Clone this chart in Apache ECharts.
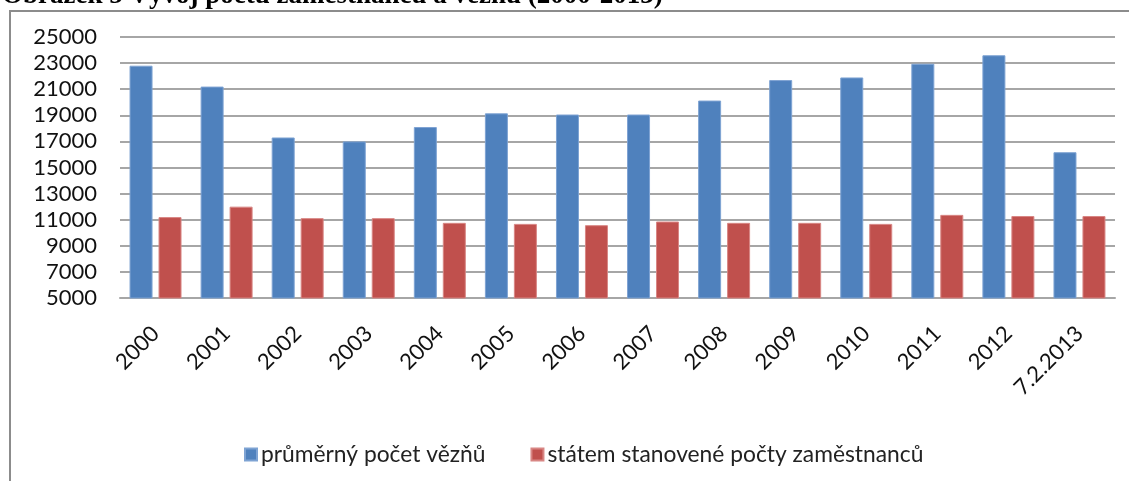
<!DOCTYPE html>
<html>
<head>
<meta charset="utf-8">
<script src="https://cdn.jsdelivr.net/npm/echarts@6/dist/echarts.min.js"></script>
<style>
  html, body { margin: 0; padding: 0; background: #fff; }
  #chart { width: 1129px; height: 481px; }
</style>
</head>
<body>
<div id="chart"></div>
<script>
var categories = ['2000', '2001', '2002', '2003', '2004', '2005', '2006', '2007',
    '2008', '2009', '2010', '2011', '2012', '7.2.2013'];
var prisoners = [22800, 21200, 17300, 17000, 18100, 19150, 19060, 19060,
    20130, 21700, 21900, 22950, 23600, 16170];
var staff = [11200, 12000, 11120, 11120, 10760, 10680, 10580, 10860,
    10760, 10760, 10680, 11370, 11280, 11280];
var seriesNames = ['průměrný počet vězňů', 'státem stanovené počty zaměstnanců'];

var font = 'Lato';
var myChart = echarts.init(document.getElementById('chart'));

var option = {
    animation: false,
    backgroundColor: '#fff',
    title: {
        text: 'Obrázek 5 Vývoj počtu zaměstnanců a vězňů (2000-2013)',
        left: -3,
        top: -22,
        textStyle: {
            fontFamily: 'Liberation Serif',
            fontWeight: 'bold',
            fontSize: 27,
            color: '#000'
        }
    },
    graphic: [{
        type: 'rect',
        shape: {x: 10, y: 11, width: 1140, height: 480},
        style: {fill: 'none', stroke: '#8c8c8c', lineWidth: 2},
        silent: true
    }],
    legend: {
        left: 239,
        top: 438,
        itemWidth: 12,
        itemHeight: 12,
        itemGap: 45,
        icon: 'rect',
        textStyle: {fontFamily: font, fontSize: 22.8, color: '#222', padding: [0, 0, 0, -1]},
        data: seriesNames
    },
    grid: {left: 120, right: 14, top: 37, bottom: 183},
    xAxis: {
        type: 'category',
        data: categories,
        axisLine: {lineStyle: {color: '#a6a6a6', width: 2}},
        axisTick: {show: false},
        axisLabel: {
            rotate: 45,
            interval: 0,
            margin: 32,
            fontFamily: font,
            fontSize: 22,
            color: '#111'
        }
    },
    yAxis: {
        type: 'value',
        min: 5000,
        max: 25000,
        interval: 2000,
        axisLine: {show: false},
        axisTick: {show: false},
        axisLabel: {
            margin: 23,
            fontFamily: font,
            fontSize: 22,
            color: '#111',
            formatter: function (v) { return String(v); }
        },
        splitLine: {lineStyle: {color: '#a6a6a6', width: 2}}
    },
    series: [{
        name: seriesNames[0],
        type: 'bar',
        data: prisoners,
        barWidth: 23,
        barGap: '26%',
        itemStyle: {color: '#4f81bd', borderColor: '#7ea3d3', borderWidth: 1}
    }, {
        name: seriesNames[1],
        type: 'bar',
        data: staff,
        barWidth: 23,
        itemStyle: {color: '#c0504d', borderColor: '#d88684', borderWidth: 1}
    }]
};

myChart.setOption(option);
</script>
</body>
</html>
